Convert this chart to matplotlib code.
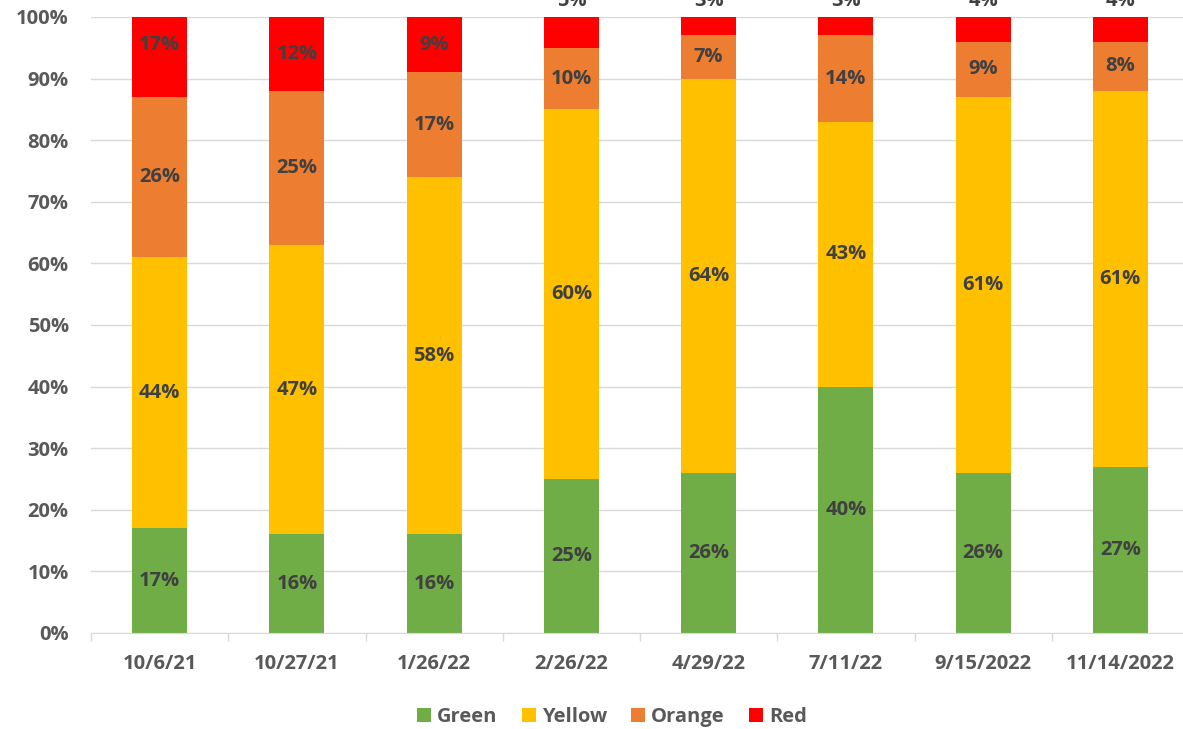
import numpy as np
import matplotlib.pyplot as plt

plt.rcParams['font.family'] = ['Open Sans', 'DejaVu Sans']

dates = ["10/6/21", "10/27/21", "1/26/22", "2/26/22", "4/29/22", "7/11/22", "9/15/2022", "11/14/2022"]
green = [17, 16, 16, 25, 26, 40, 26, 27]
yellow = [44, 47, 58, 60, 64, 43, 61, 61]
orange = [26, 25, 17, 10, 7, 14, 9, 8]
red = [17, 12, 9, 5, 3, 3, 4, 4]

series = [("Green", green, "#70AD47"), ("Yellow", yellow, "#FFC000"),
          ("Orange", orange, "#ED7D31"), ("Red", red, "#FF0000")]

fig = plt.figure(figsize=(11.83, 7.29), dpi=100)
ax = fig.add_axes([91/1183, 96/729, 1098/1183, 616/729])

x = np.arange(len(dates))
bottom = np.zeros(len(dates))
for name, vals, col in series:
    vals = np.array(vals, dtype=float)
    ax.bar(x, vals, 0.4, bottom=bottom, color=col, label=name, zorder=3)
    for i, v in enumerate(vals):
        yc = bottom[i] + v / 2
        # small red segments had their labels pushed above the plot
        if name == "Red" and v <= 5:
            yc = 102.6
        ax.text(x[i], yc, "{0}%".format(int(v)), ha="center", va="center",
                fontsize=14.5, fontweight="bold", color="#404040", clip_on=False, zorder=4)
    bottom += vals

ax.set_xlim(-0.5, len(dates) - 0.5)
ax.set_ylim(0, 100)
ax.set_yticks(np.arange(0, 101, 10))
ax.set_yticklabels(["{0}%".format(t) for t in range(0, 101, 10)])
ax.yaxis.grid(True, color="#D9D9D9", linewidth=1, zorder=0)
ax.set_xticks(x)
ax.set_xticklabels(dates)
ax.set_xticks(np.arange(-0.5, len(dates), 1), minor=True)
ax.tick_params(axis="x", which="major", length=0, pad=15)
ax.tick_params(axis="x", which="minor", length=6, color="#D9D9D9", width=1)
ax.tick_params(axis="y", length=0, pad=16)
for lab in ax.get_xticklabels() + ax.get_yticklabels():
    lab.set_fontsize(14.5)
    lab.set_fontweight("bold")
    lab.set_color("#595959")
for s in ["top", "right", "left"]:
    ax.spines[s].set_visible(False)
ax.spines["bottom"].set_color("#D9D9D9")
ax.spines["bottom"].set_zorder(5)

leg = fig.legend(loc="center", bbox_to_anchor=(612/1183, 1 - 717/729), ncol=4, frameon=False,
                 handlelength=0.7, handleheight=0.7, handletextpad=0.3, columnspacing=1.2,
                 prop={"size": 14.5, "weight": "bold"})
for t in leg.get_texts():
    t.set_color("#595959")

fig.savefig("out.png", dpi=100)
